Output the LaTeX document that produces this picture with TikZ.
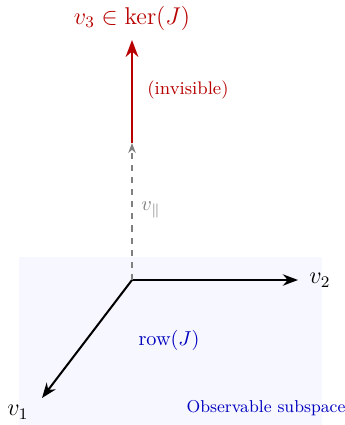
\documentclass[tikz,border=0pt]{standalone}
\usepackage{amsmath}
\usepackage{amssymb}
\usepackage{xcolor}
\usetikzlibrary{arrows.meta}
\colorlet{kercol}{red!72!black}
\colorlet{rowcol}{blue!75!black}

\begin{document}
\begin{tikzpicture}[x=0.01739cm,y=0.01739cm,
  vec/.style={line width=1pt,-{Stealth}},
  lbl/.style={inner sep=1pt}]
  \useasboundingbox (0,0) rectangle (345,-425);
  % observable subspace
  \fill[blue!3] (19,-257) rectangle (322,-425);
  \coordinate (O) at (132,-280);
  \coordinate (e1) at (42,-398);
  \coordinate (e2) at (298,-280);
  \coordinate (par) at (132,-143);
  \coordinate (top) at (132,-40);
  % vectors
  \draw[vec] (O) -- (e2);
  \draw[vec] (O) -- (e1);
  \draw[gray,line width=0.6pt,dashed,-{Stealth[length=5pt]}] (O) -- (par);
  \draw[vec,kercol,line width=1.2pt] (par) -- (top);
  % labels
  \node[lbl] (v1) at (18,-412) {\large $v_1$};
  \node[lbl] (v2) at (320,-280) {\large $v_2$};
  \node[lbl,text=kercol] (v3) at (132,-18) {\large $v_3 \in \ker(J)$};
  \node[lbl,text=kercol] (inv) at (188,-90) {\small (invisible)};
  \node[lbl,text=gray] (vpar) at (151,-210) {$v_{\parallel}$};
  \node[lbl,text=rowcol] (row) at (169,-340) {row$(J)$};
  \node[lbl,text=rowcol] (obs) at (266,-408) {\fontsize{8.5}{10}\selectfont Observable subspace};
\end{tikzpicture}
\end{document}
